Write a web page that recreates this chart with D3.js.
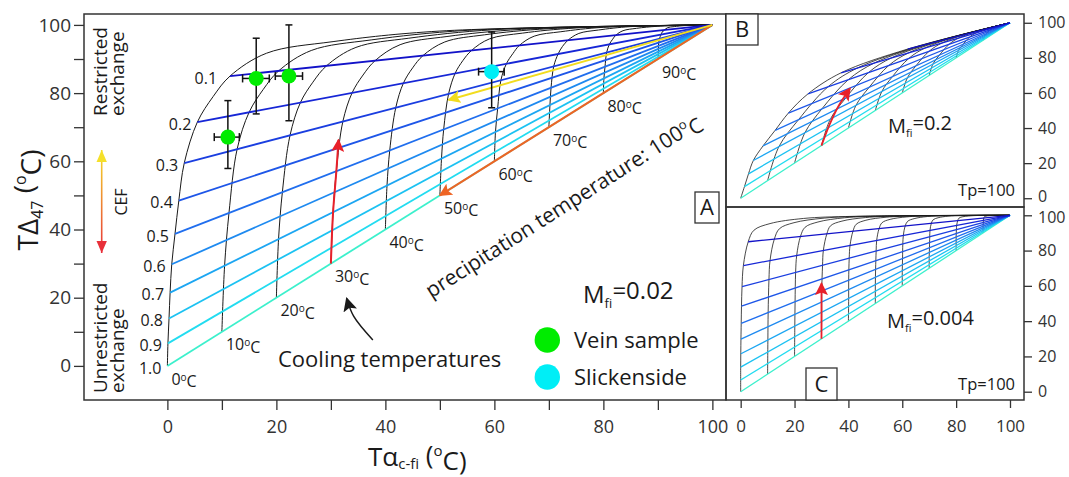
<!DOCTYPE html>
<html>
<head>
<meta charset="utf-8">
<script src="https://cdn.jsdelivr.net/npm/d3@7"></script>
<style>
  body { margin: 0; background: #fff; }
  text { font-family: 'Open Sans', 'Liberation Sans', sans-serif; fill: #1a1a1a; }
  .tick text { fill: #333; }
</style>
</head>
<body>
<svg id="chart" width="1069" height="477"></svg>
<script>
// ---- data ----
const fractionLabels = ["0.1", "0.2", "0.3", "0.4", "0.5", "0.6", "0.7", "0.8", "0.9", "1.0"]
const coolingTemps = [0, 10, 20, 30, 40, 50, 60, 70, 80, 90]
const endPoint = [100, 100]   // precipitation temperature

// panel A, Mfi = 0.02 : start of each exchange line (on the 0 oC isotherm)
const startsA = [[11.5, 85], [5.5, 71.5], [3.1, 59.5], [2.1, 48.5], [1.4, 38.7], [0.8, 29.8], [0.5, 21.5], [0.3, 13.9], [0.1, 6.6], [0, 0]]
// cooling isotherms, [Talpha, TD47]
const isothermsA = [
  [[0, 0], [0.1, 6.6], [0.3, 13.9], [0.5, 21.5], [0.8, 29.8], [1.4, 38.7], [2.1, 48.5], [3.1, 59.5], [5.5, 71.5], [8.4, 79], [11.5, 85], [18.2, 91.7], [30.4, 95.1], [50, 98.2], [100, 100]],
  [[10, 10], [10.5, 29.4], [11.3, 44.8], [12.8, 63.6], [15, 74.4], [17.6, 81.1], [20.4, 86.5], [26.4, 92.5], [37.4, 95.6], [55, 98.4], [100, 100]],
  [[20, 20], [20.4, 37.2], [21.1, 51], [22.5, 67.6], [24.4, 77.2], [26.7, 83.2], [29.2, 88], [34.6, 93.4], [44.3, 96.1], [60, 98.6], [100, 100]],
  [[30, 30], [30.4, 45.1], [31, 57.1], [32.2, 71.7], [33.9, 80.1], [35.9, 85.3], [38.1, 89.5], [42.7, 94.2], [51.3, 96.6], [65, 98.7], [100, 100]],
  [[40, 40], [40.3, 52.9], [40.8, 63.2], [41.9, 75.7], [43.3, 82.9], [45, 87.4], [46.9, 91], [50.9, 95], [58.2, 97.1], [70, 98.9], [100, 100]],
  [[50, 50], [50.3, 60.8], [50.7, 69.4], [51.6, 79.8], [52.8, 85.8], [54.2, 89.5], [55.8, 92.5], [59.1, 95.9], [65.2, 97.6], [75, 99.1], [100, 100]],
  [[60, 60], [60.2, 68.6], [60.6, 75.5], [61.2, 83.8], [62.2, 88.6], [63.4, 91.6], [64.6, 94], [67.3, 96.7], [72.2, 98], [80, 99.3], [100, 100]],
  [[70, 70], [70.2, 76.5], [70.4, 81.6], [70.9, 87.9], [71.7, 91.5], [72.5, 93.7], [73.5, 95.5], [75.5, 97.5], [79.1, 98.5], [85, 99.5], [100, 100]],
  [[80, 80], [80.1, 84.3], [80.3, 87.7], [80.6, 91.9], [81.1, 94.3], [81.7, 95.8], [82.3, 97], [83.6, 98.3], [86.1, 99], [90, 99.6], [100, 100]],
  [[90, 90], [90.1, 92.2], [90.1, 93.9], [90.3, 96], [90.6, 97.2], [90.8, 97.9], [91.2, 98.5], [91.8, 99.2], [93, 99.5], [95, 99.8], [100, 100]]
]

// panel B, Mfi = 0.2
const startsB = [[62, 85], [37.3, 71.5], [25, 59.5], [17.7, 48.5], [12.8, 38.7], [8.3, 29.8], [4.7, 21.5], [2.9, 13.9], [1.4, 6.6], [0, 0]]
const isothermsB = [
  [[0, 0], [1.4, 6.6], [2.9, 13.9], [4.7, 21.5], [8.3, 29.8], [12.8, 38.7], [17.7, 48.5], [25, 59.5], [37.3, 71.5], [62, 85], [100, 100]],
  [[10, 10], [14.2, 29.4], [21.5, 44.8], [32.5, 63.6], [43.6, 74.4], [65.8, 86.5], [100, 100]],
  [[20, 20], [23.8, 37.2], [30.2, 51], [40, 67.6], [49.8, 77.2], [69.6, 88], [100, 100]],
  [[30, 30], [33.3, 45.1], [39, 57.1], [47.5, 71.7], [56.1, 80.1], [73.4, 89.5], [100, 100]],
  [[40, 40], [42.8, 52.9], [47.7, 63.2], [55, 75.7], [62.4, 82.9], [77.2, 91], [100, 100]],
  [[50, 50], [52.4, 60.8], [56.4, 69.4], [62.5, 79.8], [68.7, 85.8], [81, 92.5], [100, 100]],
  [[60, 60], [61.9, 68.6], [65.1, 75.5], [70, 83.8], [74.9, 88.6], [84.8, 94], [100, 100]],
  [[70, 70], [71.4, 76.5], [73.8, 81.6], [77.5, 87.9], [81.2, 91.5], [88.6, 95.5], [100, 100]],
  [[80, 80], [80.9, 84.3], [82.6, 87.7], [85, 91.9], [87.5, 94.3], [92.4, 97], [100, 100]],
  [[90, 90], [90.5, 92.2], [91.3, 93.9], [92.5, 96], [93.7, 97.2], [96.2, 98.5], [100, 100]]
]

// panel C, Mfi = 0.004
const startsC = [[2.8, 85], [1, 71.5], [0.5, 59.5], [0.3, 48.5], [0.2, 38.7], [0.1, 29.8], [0.1, 21.5], [0, 13.9], [0, 6.6], [0, 0]]
const isothermsC = [
  [[0, 0], [0, 13.9], [0.1, 29.8], [0.2, 38.7], [0.3, 48.5], [0.5, 59.5], [1, 71.5], [2.8, 85], [4.9, 91.5], [10.9, 95.3], [23.3, 98.2], [41.7, 99.4], [100, 100]],
  [[10, 10], [10.1, 29.4], [10.2, 44.8], [10.5, 63.6], [10.9, 74.4], [12.5, 86.5], [14.4, 92.4], [19.8, 95.8], [31, 98.4], [47.5, 99.5], [100, 100]],
  [[20, 20], [20.1, 37.2], [20.2, 51], [20.4, 67.6], [20.8, 77.2], [22.2, 88], [23.9, 93.2], [28.7, 96.2], [38.6, 98.6], [53.4, 99.5], [100, 100]],
  [[30, 30], [30.1, 45.1], [30.1, 57.1], [30.4, 71.7], [30.7, 80.1], [32, 89.5], [33.4, 94.1], [37.6, 96.7], [46.3, 98.7], [59.2, 99.6], [100, 100]],
  [[40, 40], [40.1, 52.9], [40.1, 63.2], [40.3, 75.7], [40.6, 82.9], [41.7, 91], [42.9, 94.9], [46.5, 97.2], [54, 98.9], [65, 99.6], [100, 100]],
  [[50, 50], [50, 60.8], [50.1, 69.4], [50.3, 79.8], [50.5, 85.8], [51.4, 92.5], [52.5, 95.8], [55.5, 97.7], [61.7, 99.1], [70.9, 99.7], [100, 100]],
  [[60, 60], [60, 68.6], [60.1, 75.5], [60.2, 83.8], [60.4, 88.6], [61.1, 94], [62, 96.6], [64.4, 98.1], [69.3, 99.3], [76.7, 99.8], [100, 100]],
  [[70, 70], [70, 76.5], [70.1, 81.6], [70.2, 87.9], [70.3, 91.5], [70.8, 95.5], [71.5, 97.5], [73.3, 98.6], [77, 99.5], [82.5, 99.8], [100, 100]],
  [[80, 80], [80, 84.3], [80, 87.7], [80.1, 91.9], [80.2, 94.3], [80.6, 97], [81, 98.3], [82.2, 99.1], [84.7, 99.6], [88.3, 99.9], [100, 100]],
  [[90, 90], [90, 92.2], [90, 93.9], [90.1, 96], [90.1, 97.2], [90.3, 98.5], [90.5, 99.2], [91.1, 99.5], [92.3, 99.8], [94.2, 99.9], [100, 100]]
]

// measured samples with error bars
const veinSamples = [
  { x: 11.1, y: 67.1, xLo: 8.6, xHi: 13.2, yLo: 57.9, yHi: 77.8 },
  { x: 16.3, y: 84.3, xLo: 13.8, xHi: 18.7, yLo: 73.9, yHi: 96.1 },
  { x: 22.3, y: 85.0, xLo: 19.8, xHi: 24.8, yLo: 71.9, yHi: 100 }
]
const slickensides = [
  { x: 59.5, y: 86.3, xLo: 57.1, xHi: 61.8, yLo: 75.7, yHi: 97.9 }
]

// annotation arrows (data coordinates)
const orangeArrowA = [[100, 100], [50, 50]]
const yellowArrowA = [[100, 100], [51.6, 78]]
const redArrowA = [[30, 30], [30.4, 45], [31, 57], [31.4, 66.3]]
const redArrowB = [[30, 30], [33, 42], [36.5, 53], [40.6, 62.6]]
const redArrowC = [[30, 30], [30, 61.4]]
const coolingArrow = [[37.7, 7.6], [34.2, 14.5], [32.9, 19.8]]

const ticksA = [0, 10, 20, 30, 40, 50, 60, 70, 80, 90, 100]
const tickLabelsA = [0, 20, 40, 60, 80, 100]
const ticksBC = [0, 20, 40, 60, 80, 100]

// ---- drawing ----
const fracColors = ["#1212c8", "#1626d6", "#1a3ee0", "#1e56e8", "#206eee", "#1e8af0", "#1ca6f2", "#1cc2f2", "#22dcf0", "#3cf0cc"]

const svg = d3.select("#chart")

const xA = d3.scaleLinear().domain([-15.3, 102.5]).range([84, 726])
const yA = d3.scaleLinear().domain([-10, 103.2]).range([400, 14])
const xBC = d3.scaleLinear().domain([-5.45, 105.2]).range([726, 1024])
const yB = d3.scaleLinear().domain([-5, 105]).range([207, 14])
const yC = d3.scaleLinear().domain([-4.7, 104.7]).range([400, 207])

const defs = svg.append("defs")

function addMarker(id, color, size) {
  defs.append("marker")
    .attr("id", id)
    .attr("viewBox", "0 -5 10 10")
    .attr("refX", 9)
    .attr("refY", 0)
    .attr("markerUnits", "userSpaceOnUse")
    .attr("markerWidth", size)
    .attr("markerHeight", size)
    .attr("orient", "auto-start-reverse")
    .append("path")
    .attr("d", "M0,-5L10,0L0,5L2,0Z")
    .attr("fill", color)
}
addMarker("arrRed", "#e8202a", 13)
addMarker("arrYellow", "#f2dc1e", 13)
addMarker("arrOrange", "#ee6424", 13)
addMarker("arrBlack", "#1a1a1a", 14)

const grad = defs.append("linearGradient")
  .attr("id", "cefGrad")
  .attr("gradientUnits", "userSpaceOnUse")
  .attr("x1", 0).attr("y1", 150).attr("x2", 0).attr("y2", 253)
grad.append("stop").attr("offset", "0%").attr("stop-color", "#f5e02a")
grad.append("stop").attr("offset", "100%").attr("stop-color", "#e8303a")

function drawGrid(g, x, y, starts, isotherms, blueW, blackW) {
  const line = d3.line()
    .x(d => x(d[0]))
    .y(d => y(d[1]))
    .curve(d3.curveCatmullRom.alpha(0.5))

  g.append("g")
    .selectAll("path")
    .data(isotherms)
    .join("path")
    .attr("d", line)
    .attr("fill", "none")
    .attr("stroke", "#1a1a1a")
    .attr("stroke-width", blackW)

  g.append("g")
    .selectAll("line")
    .data(starts.slice().reverse())
    .join("line")
    .attr("x1", d => x(d[0]))
    .attr("y1", d => y(d[1]))
    .attr("x2", x(endPoint[0]))
    .attr("y2", y(endPoint[1]))
    .attr("stroke", (d, i) => fracColors[fracColors.length - 1 - i])
    .attr("stroke-width", blueW)
}

function arrowPath(g, pts, x, y, color, marker, width, curved) {
  const line = d3.line()
    .x(d => x(d[0]))
    .y(d => y(d[1]))
    .curve(curved ? d3.curveCatmullRom.alpha(0.5) : d3.curveLinear)
  g.append("path")
    .attr("d", line(pts))
    .attr("fill", "none")
    .attr("stroke", color)
    .attr("stroke-width", width)
    .attr("marker-end", "url(#" + marker + ")")
}

function degreeLabel(sel, value, supSize) {
  sel.append("tspan").text(value)
  sel.append("tspan").attr("font-size", supSize).attr("dy", "-0.4em").text("o")
  sel.append("tspan").attr("dy", "0.4em").text("C")
}

function styleAxis(g) {
  g.select(".domain").remove()
  g.selectAll(".tick line").attr("stroke", "#333").attr("stroke-width", 1.3)
}

// ================= panel A =================
const gA = svg.append("g")
drawGrid(gA, xA, yA, startsA, isothermsA, 1.8, 1)

arrowPath(gA, orangeArrowA, xA, yA, "#ee6424", "arrOrange", 2, false)
arrowPath(gA, yellowArrowA, xA, yA, "#f2dc1e", "arrYellow", 2, false)
arrowPath(gA, redArrowA, xA, yA, "#e8202a", "arrRed", 2, true)

// error bars + samples
function drawSamples(data, color) {
  const g = gA.append("g").attr("stroke", "#111").attr("stroke-width", 1.5)
  data.forEach(d => {
    g.append("line").attr("x1", xA(d.x)).attr("x2", xA(d.x)).attr("y1", yA(d.yLo)).attr("y2", yA(d.yHi))
    g.append("line").attr("x1", xA(d.x) - 3.5).attr("x2", xA(d.x) + 3.5).attr("y1", yA(d.yLo)).attr("y2", yA(d.yLo))
    g.append("line").attr("x1", xA(d.x) - 3.5).attr("x2", xA(d.x) + 3.5).attr("y1", yA(d.yHi)).attr("y2", yA(d.yHi))
    g.append("line").attr("x1", xA(d.xLo)).attr("x2", xA(d.xHi)).attr("y1", yA(d.y)).attr("y2", yA(d.y))
    g.append("line").attr("x1", xA(d.xLo)).attr("x2", xA(d.xLo)).attr("y1", yA(d.y) - 4).attr("y2", yA(d.y) + 4)
    g.append("line").attr("x1", xA(d.xHi)).attr("x2", xA(d.xHi)).attr("y1", yA(d.y) - 4).attr("y2", yA(d.y) + 4)
  })
  gA.append("g")
    .selectAll("circle")
    .data(data)
    .join("circle")
    .attr("cx", d => xA(d.x))
    .attr("cy", d => yA(d.y))
    .attr("r", 7.5)
    .attr("fill", color)
}
drawSamples(veinSamples, "#00ec00")
drawSamples(slickensides, "#00eef6")

// fraction labels
gA.append("g")
  .selectAll("text")
  .data(startsA)
  .join("text")
  .attr("x", (d, i) => xA(d[0]) - (i === 0 ? 13 : 6))
  .attr("y", d => yA(d[1]) + 2)
  .attr("dy", "0.35em")
  .attr("text-anchor", "end")
  .attr("font-size", 16)
  .text((d, i) => fractionLabels[i])

// cooling temperature labels
gA.append("g")
  .selectAll("text")
  .data(coolingTemps)
  .join("text")
  .attr("x", d => xA(d) + 4)
  .attr("y", d => yA(d) + 13)
  .attr("dy", "0.35em")
  .attr("font-size", 16)
  .each(function (d) { degreeLabel(d3.select(this), d, 10) })

// frame
gA.append("rect")
  .attr("x", 84).attr("y", 14).attr("width", 642).attr("height", 386)
  .attr("fill", "none").attr("stroke", "#333").attr("stroke-width", 1.5)

// axes
const axLeftA = svg.append("g").attr("transform", "translate(84,0)")
  .call(d3.axisLeft(yA).tickValues(ticksA).tickSize(10).tickPadding(3)
    .tickFormat(d => tickLabelsA.includes(d) ? d : ""))
axLeftA.selectAll("text").attr("font-size", 19)
styleAxis(axLeftA)

const axBottomA = svg.append("g").attr("transform", "translate(0,400)")
  .call(d3.axisBottom(xA).tickValues(ticksA).tickSize(10).tickPadding(10)
    .tickFormat(d => tickLabelsA.includes(d) ? d : ""))
axBottomA.selectAll("text").attr("font-size", 18)
styleAxis(axBottomA)

// axis titles
const yTitle = svg.append("text")
  .attr("transform", "translate(38,200) rotate(-90)")
  .attr("text-anchor", "middle")
  .attr("font-size", 28)
yTitle.append("tspan").text("T\u0394")
yTitle.append("tspan").attr("font-size", 16).attr("dy", "0.3em").text("47")
yTitle.append("tspan").attr("dy", "-0.3em").text(" (")
yTitle.append("tspan").attr("font-size", 16).attr("dy", "-0.55em").text("o")
yTitle.append("tspan").attr("dy", "0.55em").text("C)")

const xTitle = svg.append("text")
  .attr("x", 368).attr("y", 466)
  .attr("font-size", 26)
xTitle.append("tspan").text("T\u03b1")
xTitle.append("tspan").attr("font-size", 15).attr("dy", "0.18em").text("c-fi")
xTitle.append("tspan").attr("dy", "-0.18em").text(" (")
xTitle.append("tspan").attr("font-size", 15).attr("dy", "-0.55em").text("o")
xTitle.append("tspan").attr("dy", "0.55em").text("C)")

// restricted / unrestricted exchange
const sideText = [
  { lines: ["Restricted", "exchange"], y: 116 },
  { lines: ["Unrestricted", "exchange"], y: 393 }
]
sideText.forEach(s => {
  s.lines.forEach((t, i) => {
    svg.append("text")
      .attr("transform", `translate(${107 + i * 17},${s.y}) rotate(-90)`)
      .attr("font-size", 19)
      .text(t)
  })
})

// CEF arrow
svg.append("line")
  .attr("x1", 101.7).attr("x2", 101.7).attr("y1", 150).attr("y2", 253)
  .attr("stroke", "url(#cefGrad)").attr("stroke-width", 1.6)
svg.append("path")
  .attr("d", "M101.7,150 L96.5,162 L106.9,162 Z").attr("fill", "#f5e02a")
svg.append("path")
  .attr("d", "M101.7,253 L96.5,241 L106.9,241 Z").attr("fill", "#e8303a")
svg.append("text")
  .attr("transform", "translate(127,202) rotate(-90)")
  .attr("text-anchor", "middle")
  .attr("font-size", 16)
  .text("CEF")

// cooling temperatures note
arrowPath(gA, coolingArrow, xA, yA, "#1a1a1a", "arrBlack", 1.5, true)
svg.append("text")
  .attr("x", 278).attr("y", 367)
  .attr("font-size", 22)
  .text("Cooling temperatures")

// precipitation temperature
const precip = svg.append("text")
  .attr("transform", "translate(567,212) rotate(-32.5)")
  .attr("text-anchor", "middle")
  .attr("font-size", 21)
precip.append("tspan").text("precipitation temperature: 100")
precip.append("tspan").attr("font-size", 13).attr("dy", "-0.55em").text("o")
precip.append("tspan").attr("dy", "0.55em").text("C")

// Mfi label
function mfiLabel(x, y, size, value) {
  const t = svg.append("text").attr("x", x).attr("y", y).attr("font-size", size)
  t.append("tspan").text("M")
  t.append("tspan").attr("font-size", size * 0.55).attr("dy", "0.35em").text("fi")
  t.append("tspan").attr("dy", "-0.35em").text("=" + value)
}
mfiLabel(583, 303, 24, "0.02")

// legend
const legend = [
  { label: "Vein sample", color: "#00ec00", y: 340 },
  { label: "Slickenside", color: "#00eef6", y: 377 }
]
legend.forEach(l => {
  svg.append("circle").attr("cx", 547.3).attr("cy", l.y).attr("r", 12.7).attr("fill", l.color)
  svg.append("text").attr("x", 574).attr("y", l.y).attr("dy", "0.35em").attr("font-size", 22).text(l.label)
})

// panel letter boxes
function letterBox(x, y, w, h, letter) {
  svg.append("rect").attr("x", x).attr("y", y).attr("width", w).attr("height", h)
    .attr("fill", "#fff").attr("stroke", "#333").attr("stroke-width", 1.3)
  svg.append("text").attr("x", x + w / 2).attr("y", y + h / 2).attr("dy", "0.36em")
    .attr("text-anchor", "middle").attr("font-size", 22).text(letter)
}
letterBox(695, 192, 24, 31, "A")

// ================= panel B =================
const gB = svg.append("g")
drawGrid(gB, xBC, yB, startsB, isothermsB, 1.3, 0.8)
arrowPath(gB, redArrowB, xBC, yB, "#e8202a", "arrRed", 1.8, true)
mfiLabel(888, 133, 20, "0.2")
svg.append("text").attr("x", 1015).attr("y", 196).attr("text-anchor", "end").attr("font-size", 16.5).text("Tp=100")
svg.append("rect")
  .attr("x", 726).attr("y", 14).attr("width", 298).attr("height", 193)
  .attr("fill", "none").attr("stroke", "#333").attr("stroke-width", 1.5)
letterBox(726, 14, 32, 31, "B")
const axB = svg.append("g").attr("transform", "translate(1024,0)")
  .call(d3.axisRight(yB).tickValues(ticksBC).tickSize(8).tickPadding(6))
axB.selectAll("text").attr("font-size", 16)
styleAxis(axB)

// ================= panel C =================
const gC = svg.append("g")
drawGrid(gC, xBC, yC, startsC, isothermsC, 1.3, 0.8)
arrowPath(gC, redArrowC, xBC, yC, "#e8202a", "arrRed", 1.8, false)
mfiLabel(887, 328, 20, "0.004")
svg.append("text").attr("x", 1015).attr("y", 390).attr("text-anchor", "end").attr("font-size", 16.5).text("Tp=100")
svg.append("rect")
  .attr("x", 726).attr("y", 207).attr("width", 298).attr("height", 193)
  .attr("fill", "none").attr("stroke", "#333").attr("stroke-width", 1.5)
letterBox(806, 368, 31, 32, "C")
const axC = svg.append("g").attr("transform", "translate(1024,0)")
  .call(d3.axisRight(yC).tickValues(ticksBC).tickSize(8).tickPadding(6))
axC.selectAll("text").attr("font-size", 16)
styleAxis(axC)
// keep the B "0" and C "100" labels from touching
axB.selectAll(".tick text").filter(d => d === 0).attr("dy", "0.2em")
axC.selectAll(".tick text").filter(d => d === 100).attr("dy", "0.45em")
const axCb = svg.append("g").attr("transform", "translate(0,400)")
  .call(d3.axisBottom(xBC).tickValues(ticksBC).tickSize(8).tickPadding(12))
axCb.selectAll("text").attr("font-size", 17)
styleAxis(axCb)
</script>
</body>
</html>
